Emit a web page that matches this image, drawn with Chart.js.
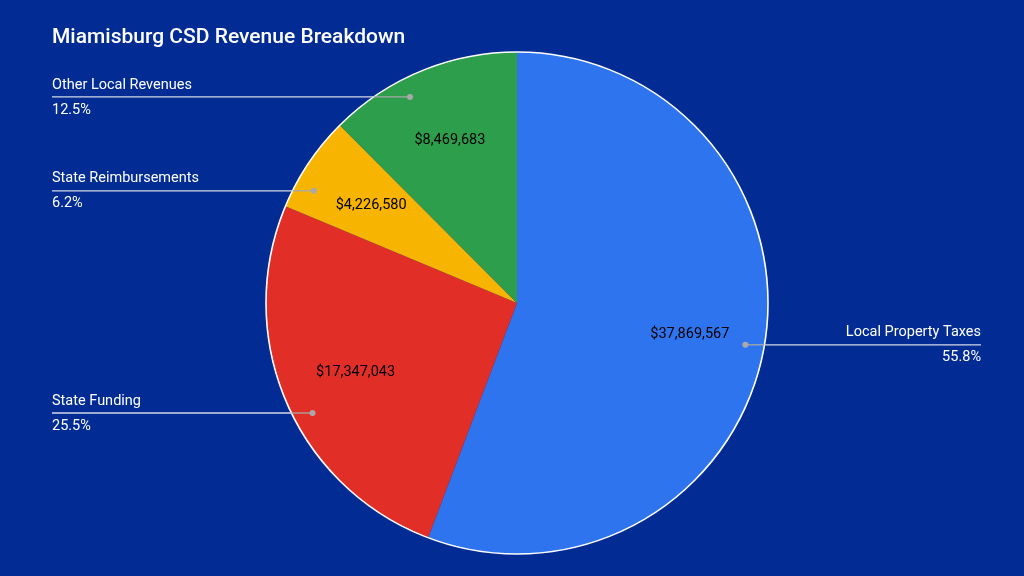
<!DOCTYPE html>
<html>
<head>
<meta charset="utf-8">
<script src="https://cdn.jsdelivr.net/npm/chart.js@4/dist/chart.umd.min.js"></script>
<style>
  html, body { margin: 0; padding: 0; background: #022c94; }
  #wrap { width: 1024px; height: 576px; }
</style>
</head>
<body>
<div id="wrap"><canvas id="c" width="1024" height="576"></canvas></div>
<script>
const chartTitle = 'Miamisburg CSD Revenue Breakdown';
const categories = ['Local Property Taxes', 'State Funding', 'State Reimbursements', 'Other Local Revenues'];
const values = [37869567, 17347043, 4226580, 8469683];
const colors = ['#2e74ee', '#e12f28', '#f7b400', '#2d9e4b'];

const total = values.reduce((a, b) => a + b, 0);
const fmtMoney = v => '$' + v.toLocaleString('en-US');
const fmtPct = v => (v / total * 100).toFixed(1) + '%';

const FONT = 'Roboto, "Liberation Sans", Arial, sans-serif';
const LEFT_SHIFT = -5 * Math.PI / 180; // leader anchor nudge for left-side labels

const labelPlugin = {
  id: 'labels',
  beforeDraw(chart) {
    const ctx = chart.ctx;
    ctx.save();
    ctx.fillStyle = '#022c94';
    ctx.fillRect(0, 0, chart.width, chart.height);
    ctx.fillStyle = '#ffffff';
    ctx.font = '500 21px ' + FONT;
    ctx.textBaseline = 'middle';
    ctx.textAlign = 'left';
    ctx.fillText(chartTitle, 52, 38);
    ctx.restore();
  },
  afterDatasetsDraw(chart) {
    const ctx = chart.ctx;
    const meta = chart.getDatasetMeta(0);
    ctx.save();
    // outer white rim
    const a0 = meta.data[0].getProps(['x', 'y', 'outerRadius'], true);
    ctx.strokeStyle = '#ffffff';
    ctx.lineWidth = 1.6;
    ctx.beginPath(); ctx.arc(a0.x, a0.y, a0.outerRadius, 0, Math.PI * 2); ctx.stroke();

    meta.data.forEach((arc, i) => {
      const p = arc.getProps(['x', 'y', 'startAngle', 'endAngle', 'outerRadius'], true);
      const mid = (p.startAngle + p.endAngle) / 2;
      const R = p.outerRadius;
      const right = Math.cos(mid) > 0;
      // value label
      const vx = p.x + Math.cos(mid) * R * 0.7;
      const vy = p.y + Math.sin(mid) * R * 0.7;
      ctx.fillStyle = '#000000';
      ctx.font = '14.5px ' + FONT;
      ctx.textAlign = 'center';
      ctx.textBaseline = 'middle';
      ctx.fillText(fmtMoney(values[i]), vx, vy);
      // leader
      const la = right ? mid : mid + LEFT_SHIFT;
      const dx = p.x + Math.cos(la) * R * 0.925;
      const dy = p.y + Math.sin(la) * R * 0.925;
      const endX = right ? 981 : 52;
      const off = Math.sqrt(Math.max(R * R - (dy - p.y) * (dy - p.y), 0));
      const edgeX = right ? p.x + off : p.x - off;
      ctx.lineWidth = 1.3;
      ctx.strokeStyle = '#a9a9a9';
      ctx.beginPath(); ctx.moveTo(dx, dy); ctx.lineTo(edgeX, dy); ctx.stroke();
      ctx.strokeStyle = '#d3d8e6';
      ctx.beginPath(); ctx.moveTo(edgeX, dy); ctx.lineTo(endX, dy); ctx.stroke();
      ctx.fillStyle = '#a9a9a9';
      ctx.beginPath(); ctx.arc(dx, dy, 3, 0, Math.PI * 2); ctx.fill();
      // texts
      ctx.fillStyle = '#ffffff';
      ctx.font = '14.5px ' + FONT;
      ctx.textAlign = right ? 'right' : 'left';
      ctx.textBaseline = 'middle';
      ctx.fillText(categories[i], endX, dy - 12);
      ctx.fillText(fmtPct(values[i]), endX, dy + 13);
    });
    ctx.restore();
  }
};

new Chart(document.getElementById('c'), {
  type: 'pie',
  data: {
    labels: categories,
    datasets: [{
      data: values,
      backgroundColor: colors,
      borderWidth: 0
    }]
  },
  options: {
    responsive: false,
    animation: false,
    layout: { padding: { top: 52, bottom: 22, left: 10, right: 0 } },
    plugins: {
      legend: { display: false },
      tooltip: { enabled: false },
      title: { display: false }
    }
  },
  plugins: [labelPlugin]
});
</script>
</body>
</html>
